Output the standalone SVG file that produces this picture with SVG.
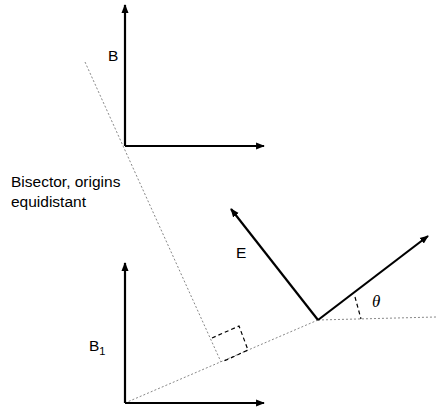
<svg xmlns="http://www.w3.org/2000/svg" width="436" height="408" viewBox="0 0 436 408">
<defs>
<marker id="ah" viewBox="0 0 10 10" refX="9" refY="5" markerWidth="4" markerHeight="4" orient="auto" markerUnits="strokeWidth">
<path d="M0,1 L10,5 L0,9 Z" fill="#000"/>
</marker>
</defs>
<style>
.axis{stroke:#000;stroke-width:2.2;fill:none;marker-end:url(#ah)}
.dot{stroke:#888;stroke-width:1;stroke-dasharray:2,2;fill:none}
.dash{stroke:#000;stroke-width:1.2;stroke-dasharray:4,3;fill:none}
.lbl{font-family:"Liberation Sans",Arial,sans-serif;font-size:15.5px;fill:#000}
.th{font-family:"Liberation Serif","Times New Roman",serif;font-style:italic;font-size:17px;fill:#000}
</style>
<rect width="436" height="408" fill="#fff"/>
<g id="connectors">
<path class="dot" d="M85,62 L221,362"/>
<path class="dot" d="M125,403 L318,320"/>
<path class="dot" d="M318,320 L436,317"/>
<path class="dash" d="M212,338 L239,326 L248,350 L222,362"/>
<path class="dash" d="M355,297 L361,319"/>
</g>
<g id="frameB">
<path class="axis" d="M125,146 L125,5"/>
<path class="axis" d="M125,146 L264,146"/>
<text class="lbl" x="108" y="61">B</text>
</g>
<g id="frameB1">
<path class="axis" d="M125,403 L125,263"/>
<path class="axis" d="M125,403 L264,403"/>
<text class="lbl" x="89" y="351">B<tspan font-size="11" dy="4">1</tspan></text>
</g>
<g id="frameE">
<path class="axis" d="M318,320 L231,209"/>
<path class="axis" d="M318,320 L428,236"/>
<text class="lbl" x="236" y="258">E</text>
<text class="th" x="372" y="307">θ</text>
</g>
<g id="note">
<text class="lbl" x="11" y="187">Bisector, origins</text>
<text class="lbl" x="11" y="207">equidistant</text>
</g>
</svg>
